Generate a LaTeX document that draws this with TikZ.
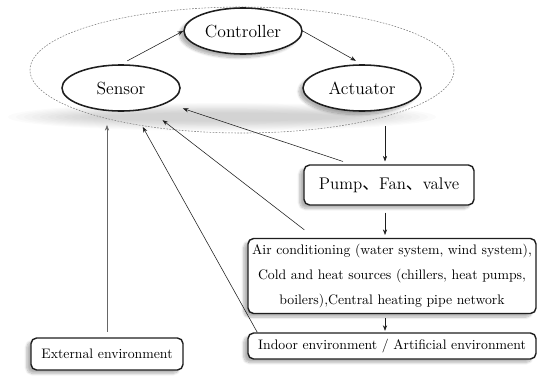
\documentclass[tikz,border=0pt]{standalone}
\usepackage{fontspec}
\newfontfamily\cjk{Noto Sans CJK SC}
\usepackage{tikz}
\usetikzlibrary{shapes.geometric,arrows.meta,positioning,shadows.blur}
\definecolor{diagink}{RGB}{30,30,30}

\begin{document}
\begin{tikzpicture}[
  x=0.025cm, y=-0.025cm,
  unit/.style={draw=diagink, ellipse, line width=1.1pt, fill=white, minimum width=2.95cm, minimum height=1.15cm, inner sep=0pt, font=\fontsize{12.5}{15}\selectfont},
  soft/.style={blur shadow={shadow xshift=-3pt, shadow yshift=-2.5pt, shadow blur steps=8, shadow opacity=30}},
  box/.style={draw=diagink, rounded corners=4pt, line width=1pt, fill=white, align=center, inner sep=0pt, font=\fontsize{9.8}{17.5}\selectfont, soft},
  arr/.style={-{Stealth[length=4pt,width=3pt]}, thin, diagink},
  grp/.style={draw=gray, thin, dash pattern=on 1.2pt off 1pt}
]
\useasboundingbox (0,0) rectangle (538,375);

% shadow under the control loop
\foreach \k in {0,...,11}
  \fill[black, opacity=0.016] (222,117) ellipse ({214-\k*8} and {14-\k*0.9});
\draw[grp] (242,70) ellipse (212 and 63);

\node[unit, soft] (controller) at (243,31) {Controller};
\node[unit] (sensor) at (121,88) {Sensor};
\node[unit, soft] (actuator) at (362,88) {Actuator};

\node[box, minimum width=4.25cm, minimum height=1cm, font=\fontsize{12}{15}\selectfont] (pump) at (389,185) {Pump{\cjk 、}Fan{\cjk 、}valve};
\node[box, minimum width=7.2cm, minimum height=1.875cm] (ac) at (392,276) {Air conditioning (water system, wind system),\\Cold and heat sources (chillers, heat pumps,\\boilers),Central heating pipe network};
\node[box, minimum width=7.2cm, minimum height=0.65cm] (indoor) at (392,346) {Indoor environment / Artificial environment};
\node[box, minimum width=3.8cm, minimum height=0.8cm] (external) at (107,354) {External environment};

\coordinate (vx) at (385,0);

% loop
\draw[arr, shorten <=5pt] (sensor.north) -- (controller.west);
\draw[arr, shorten >=5pt] (controller.east) -- (actuator.north);

% plant chain
\draw[arr, shorten <=0.35cm, shorten >=2pt] (actuator.south -| vx) -- (pump.north -| vx);
\draw[arr, shorten <=5pt, shorten >=2pt] (pump.south -| vx) -- (ac.north -| vx);
\draw[arr, shorten <=3pt, shorten >=1pt] (ac.south -| vx) -- (indoor.north -| vx);

% feedback to sensor
\draw[arr, draw=gray!80!black, shorten <=4pt, shorten >=0.33cm] (external.north) -- (external.north |- sensor.south);
\draw[arr, shorten >=0.42cm] ([xshift=-1.15cm, yshift=2pt]pump.north) -- (sensor);
\draw[arr, shorten >=0.45cm] ([xshift=1.425cm, yshift=0.2cm]ac.north west) -- (sensor);
\draw[arr, shorten >=0.45cm] ([xshift=0.25cm]indoor.north west) -- (sensor);
\end{tikzpicture}
\end{document}
